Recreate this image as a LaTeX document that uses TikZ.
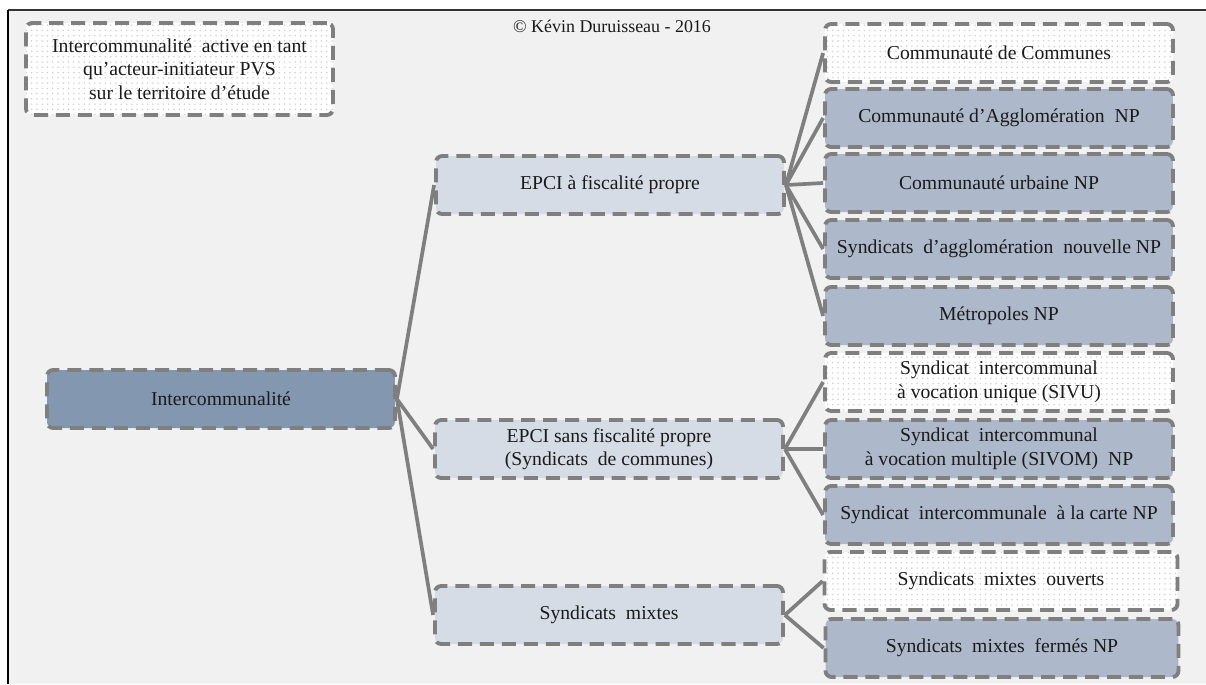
\documentclass[tikz,border=0pt]{standalone}
\usepackage{fontspec}
\setmainfont{Liberation Serif}
\definecolor{panelgray}{HTML}{F1F1F1}
\definecolor{linegray}{HTML}{7F7F7F}
\definecolor{rootfill}{HTML}{8497B0}
\definecolor{midfill}{HTML}{D6DCE5}
\definecolor{npfill}{HTML}{ADB9CA}
\definecolor{textdark}{HTML}{1A1A1A}
\usetikzlibrary{patterns, positioning}

\begin{document}
\begin{tikzpicture}[
      x=0.02cm, y=-0.02cm,
      box/.style={
          draw=linegray,
          line width=2.2pt,
          dash pattern=on 8pt off 4.5pt,
          rounded corners=3.5pt,
          minimum width=6.96cm,
          minimum height=1.16cm,
          inner sep=2pt,
          text=textdark,
          font=\fontsize{11.2}{13.4}\selectfont,
          align=center
        },
      rootbox/.style={box, fill=rootfill},
      midbox/.style={box, fill=midfill},
      npbox/.style={box, fill=npfill},
      openbox/.style={box, preaction={fill=white}, pattern=dots, pattern color=black!18},
      branch/.style={draw=linegray, line width=2.1pt},
      credit/.style={font=\fontsize{10.2}{12}\selectfont, text=textdark}
    ]
    \useasboundingbox (0,0) rectangle (1206,684);
    \fill[white] (0,0) rectangle (1206,684);
    \fill[panelgray] (8,10) rectangle (1206,684);
    \draw[black!80, line width=0.6pt] (8,10) -- (1206,10);
    \draw[black, line width=1.1pt] (8,10) -- (8,684);

    \node[credit] (author) at (612,26) {© Kévin Duruisseau - 2016};
    \node[openbox, minimum width=6.14cm, minimum height=1.84cm] (legend) at (179.5,69)
      {Intercommunalité\ \ active en tant\\qu’acteur-initiateur PVS\\sur le territoire d’étude};

    \node[rootbox] (inter) at (221,399) {Intercommunalité};

    \node[midbox] (fisc) at (610,185) {EPCI à fiscalité propre};
    \node[midbox] (sans) at (609,449) {EPCI sans fiscalité propre\\(Syndicats\ \ de communes)};
    \node[midbox] (mixtes) at (609,615) {Syndicats\ \ mixtes};

    \node[openbox] (cc) at (999,53) {Communauté de Communes};
    \node[npbox] (ca) at (999,118) {Communauté d’Agglomération\ \ NP};
    \node[npbox] (cu) at (999,183) {Communauté urbaine NP};
    \node[npbox] (san) at (999,249) {Syndicats\ \ d’agglomération\ \ nouvelle NP};
    \node[npbox] (metro) at (999,316) {Métropoles NP};

    \node[openbox] (sivu) at (999,382) {Syndicat\ \ intercommunal\\à vocation unique (SIVU)};
    \node[npbox] (sivom) at (999,449) {Syndicat\ \ intercommunal\\à vocation multiple (SIVOM)\ \ NP};
    \node[npbox] (carte) at (999,515) {Syndicat\ \ intercommunale\ \ à la carte NP};

    \node[openbox, minimum width=7.06cm] (ouverts) at (1001,581) {Syndicats\ \ mixtes\ \ ouverts};
    \node[npbox, minimum width=7.06cm] (fermes) at (1002,648) {Syndicats\ \ mixtes\ \ fermés NP};

    \foreach \n in {fisc, sans, mixtes}
      \draw[branch] (inter.east) -- (\n.west);
    \foreach \n in {cc, ca, cu, san, metro}
      \draw[branch] (fisc.east) -- (\n.west);
    \foreach \n in {sivu, sivom, carte}
      \draw[branch] (sans.east) -- (\n.west);
    \foreach \n in {ouverts, fermes}
      \draw[branch] (mixtes.east) -- (\n.west);
  \end{tikzpicture}
\end{document}
